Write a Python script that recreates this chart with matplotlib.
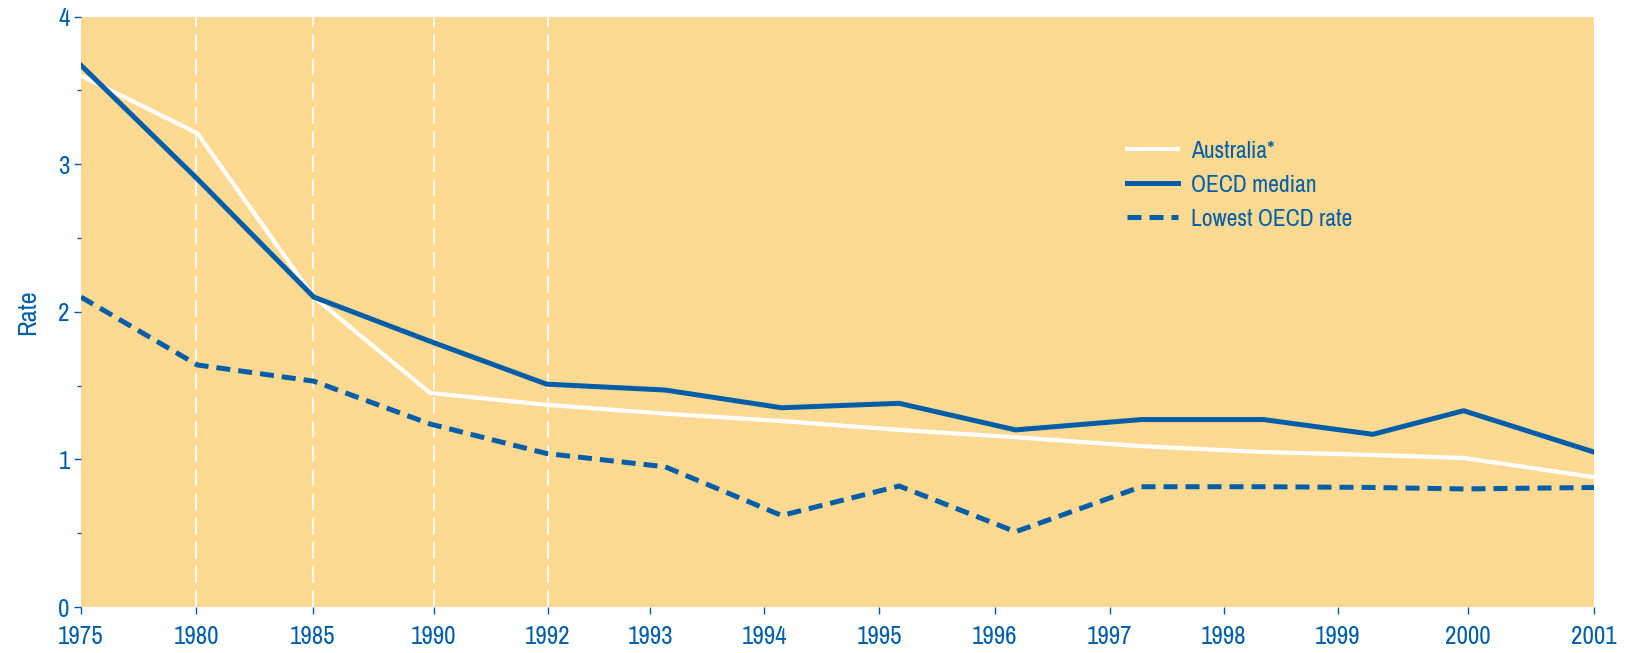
import numpy as np
import matplotlib
matplotlib.use("Agg")
import matplotlib.pyplot as plt
from matplotlib import font_manager

# a narrow face is closest to the original; take the first one present
narrow = [f.name for f in font_manager.fontManager.ttflist
          if 'Narrow' in f.name or 'Condensed' in f.name]
plt.rcParams['font.family'] = (narrow[:1] or ['DejaVu Sans']) + ['DejaVu Sans']
plt.rcParams['font.stretch'] = 'condensed'

# category labels on the axis
years = ['1975', '1980', '1985', '1990', '1992', '1993', '1994',
         '1995', '1996', '1997', '1998', '1999', '2000', '2001']

# series values
australia = [3.60, 3.21, 2.10, 1.45, 1.37, 1.31, 1.26, 1.20, 1.15, 1.09, 1.05, 1.03, 1.01, 0.88]
oecd_median = [3.67, 2.90, 2.10, 1.80, 1.51, 1.47, 1.35, 1.38, 1.20, 1.27, 1.27, 1.17, 1.33, 1.05]
oecd_lowest = [2.10, 1.64, 1.53, 1.24, 1.04, 0.95, 0.62, 0.82, 0.51, 0.815, 0.815, 0.81, 0.80, 0.81]

# the original drawing puts points and ticks at slightly different places
point_pos = [0, 1, 2, 3, 4, 5.02, 6.02, 7.03, 8.03, 9.11, 10.16, 11.10, 11.88, 13]
tick_pos = [0, 0.99, 1.99, 3.03, 4.01, 4.89, 5.87, 6.86, 7.85, 8.84, 9.82, 10.80, 11.92, 13]
grid_years = ['1980', '1985', '1990', '1992']

blue = '#005ea8'
bg = '#fdd992'

fig = plt.figure(figsize=(16.26, 6.53), dpi=100)
ax = fig.add_axes([0.0498, 0.0704, 0.9305, 0.9042])
ax.set_facecolor(bg)

for y in grid_years:
    ax.axvline(tick_pos[years.index(y)], color='white', lw=1.2,
               linestyle=(0, (10, 4.5)), zorder=1)

ax.plot(point_pos, australia, color='white', lw=3.0, label='Australia*', zorder=3)
ax.plot(point_pos, oecd_median, color=blue, lw=3.6, label='OECD median', zorder=4)
ax.plot(point_pos, oecd_lowest, color=blue, lw=3.6, linestyle=(0, (2.8, 1.6)),
        label='Lowest OECD rate', zorder=4)

ax.set_xlim(0, 13)
ax.set_ylim(0, 4)
ax.set_xticks(tick_pos)
ax.set_xticklabels(years)
ax.set_yticks([0, 1, 2, 3, 4])
ax.set_yticks([0.5, 1.5, 2.5, 3.5], minor=True)

for s in ax.spines.values():
    s.set_visible(False)

ax.tick_params(axis='both', which='major', colors=blue, labelsize=18,
               length=5, width=1)
ax.tick_params(axis='y', which='minor', colors=blue, length=3, width=1)
ax.tick_params(axis='x', pad=8)
ax.tick_params(axis='y', pad=3)
ax.set_ylabel('Rate', color=blue, fontsize=19, labelpad=14)

leg = ax.legend(loc='upper left', bbox_to_anchor=(0.677, 0.826), frameon=False,
                fontsize=17, handlelength=2.2, handletextpad=0.55,
                labelspacing=0.55)
for t in leg.get_texts():
    t.set_color(blue)

fig.savefig('out.png', dpi=100)
